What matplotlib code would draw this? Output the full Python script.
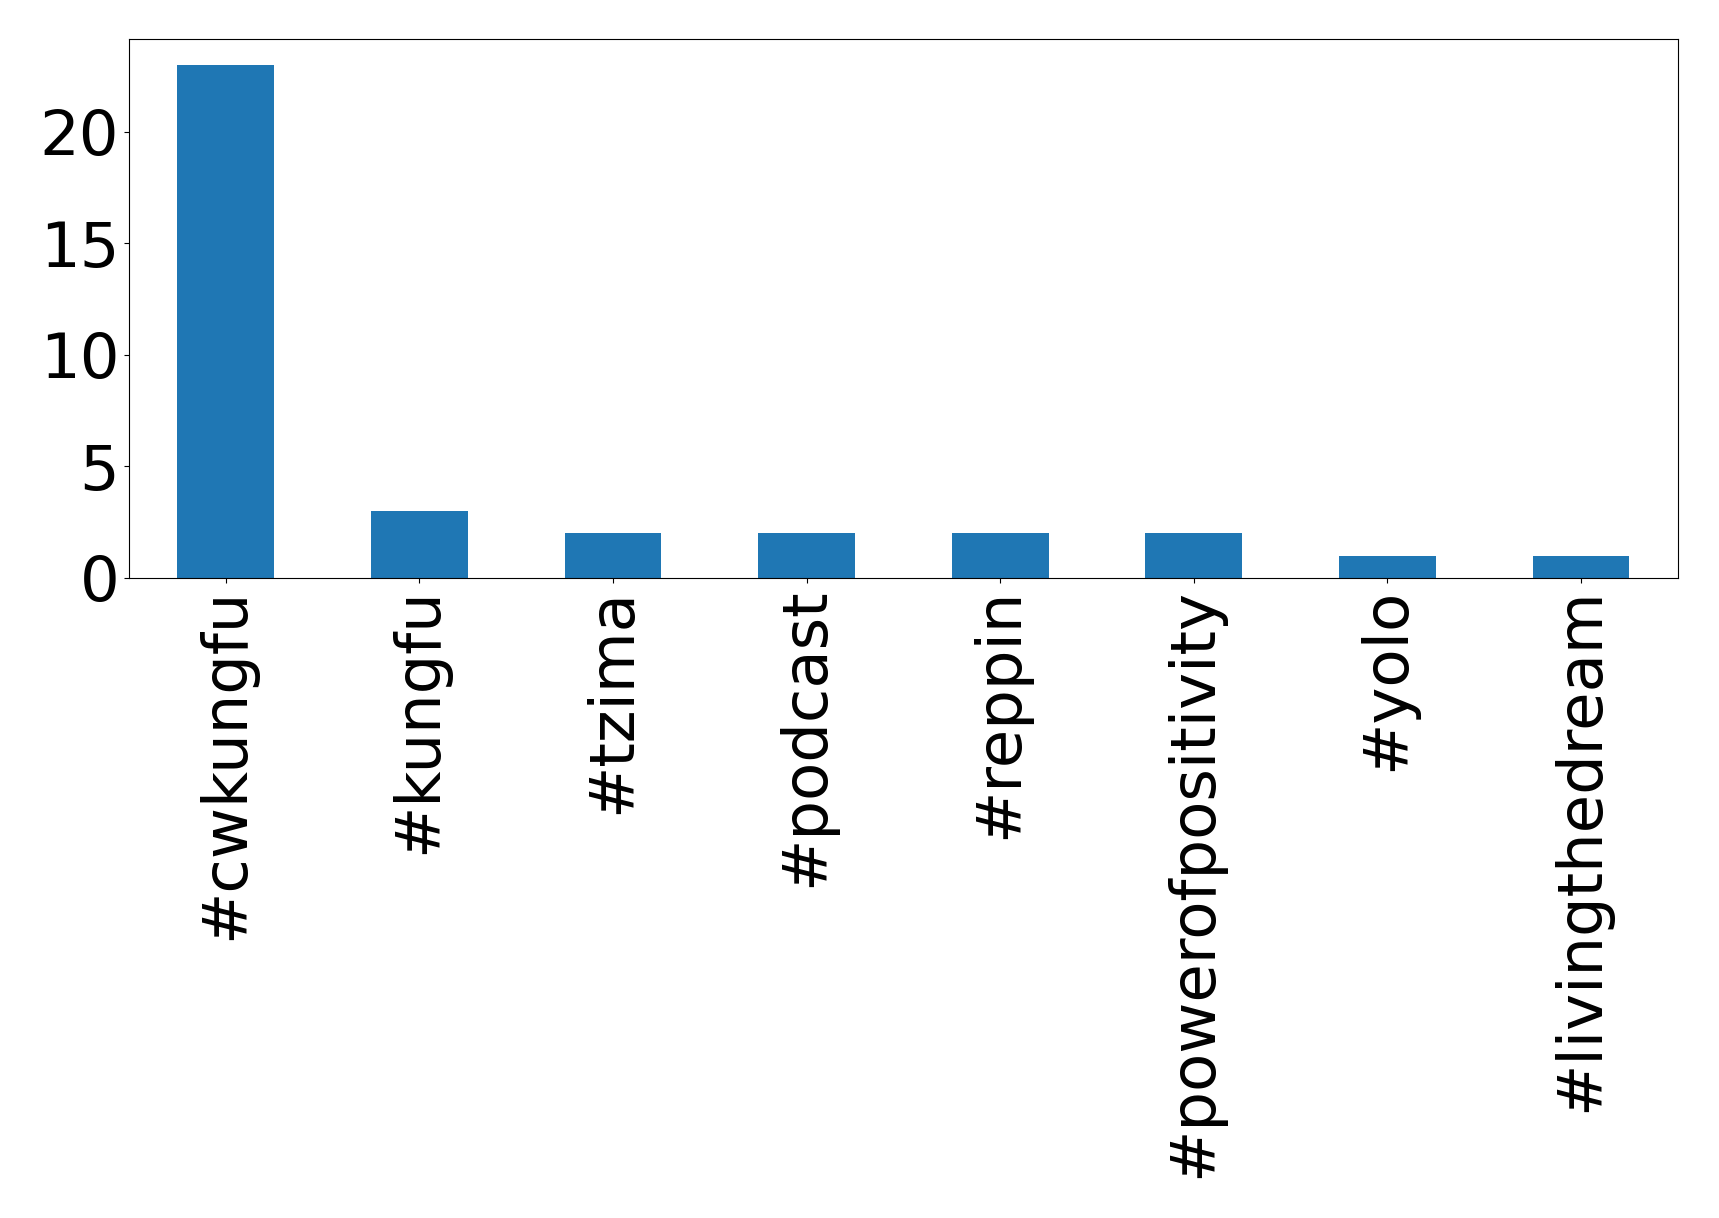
import matplotlib
matplotlib.use("Agg")
import matplotlib.pyplot as plt
import numpy as np

# hashtag counts
tags = ['#cwkungfu', '#kungfu', '#tzima', '#podcast', '#reppin',
        '#powerofpositivity', '#yolo', '#livingthedream']
counts = [23, 3, 2, 2, 2, 2, 1, 1]

fig = plt.figure(figsize=(17.19, 12.18), dpi=100)
ax = fig.add_axes([0.075, 0.5255, 0.901, 0.4425])

x = np.arange(len(tags))
ax.bar(x, counts, width=0.5, color='#1f77b4')
ax.set_xlim(-0.5, len(tags) - 0.5)
ax.set_ylim(0, max(counts) * 1.05)
ax.set_xticks(x)
ax.set_xticklabels(tags, rotation=90)
ax.set_yticks([0, 5, 10, 15, 20])
ax.tick_params(axis='both', labelsize=45)

fig.savefig('out.png', dpi=100)
